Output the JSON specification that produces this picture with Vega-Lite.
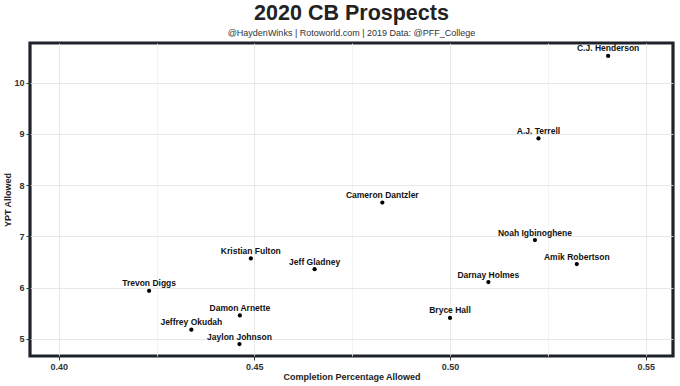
{
  "$schema": "https://vega.github.io/schema/vega-lite/v6.json",
  "width": 643,
  "height": 313,
  "autosize": {"type": "none"},
  "padding": {"left": 30, "top": 43, "right": 7, "bottom": 30},
  "background": "white",
  "title": {
    "text": "2020 CB Prospects",
    "subtitle": "@HaydenWinks | Rotoworld.com | 2019 Data: @PFF_College",
    "anchor": "middle",
    "font": "Liberation Sans",
    "fontSize": 21.5,
    "fontWeight": "bold",
    "color": "#222222",
    "subtitleFont": "Liberation Sans",
    "subtitleFontSize": 9,
    "subtitleColor": "#333333",
    "subtitlePadding": 5,
    "offset": 5
  },
  "config": {
    "view": {"stroke": "#1e222b", "strokeWidth": 3.2},
    "axis": {
      "domain": false,
      "labelFont": "Liberation Sans",
      "labelFontSize": 9,
      "labelFontWeight": "bold",
      "labelColor": "#333333",
      "titleFont": "Liberation Sans",
      "titleFontSize": 9,
      "titleFontWeight": "bold",
      "titleColor": "#222222",
      "tickColor": "#333333",
      "tickSize": 4,
      "labelPadding": 2,
      "gridWidth": 0.8
    }
  },
  "data": {
    "values": [
      {"player": "C.J. Henderson", "comp": 0.5404, "ypt": 10.52},
      {"player": "A.J. Terrell", "comp": 0.5226, "ypt": 8.91},
      {"player": "Cameron Dantzler", "comp": 0.4827, "ypt": 7.66},
      {"player": "Noah Igbinoghene", "comp": 0.5217, "ypt": 6.93},
      {"player": "Kristian Fulton", "comp": 0.4491, "ypt": 6.57},
      {"player": "Amik Robertson", "comp": 0.5324, "ypt": 6.46},
      {"player": "Jeff Gladney", "comp": 0.4654, "ypt": 6.36},
      {"player": "Darnay Holmes", "comp": 0.5098, "ypt": 6.11},
      {"player": "Trevon Diggs", "comp": 0.4231, "ypt": 5.94},
      {"player": "Damon Arnette", "comp": 0.4463, "ypt": 5.46},
      {"player": "Bryce Hall", "comp": 0.5, "ypt": 5.41},
      {"player": "Jeffrey Okudah", "comp": 0.4339, "ypt": 5.18},
      {"player": "Jaylon Johnson", "comp": 0.4462, "ypt": 4.9}
    ]
  },
  "encoding": {
    "x": {
      "field": "comp",
      "type": "quantitative",
      "scale": {"domain": [0.39267, 0.55698], "nice": false, "zero": false},
      "axis": {
        "title": "Completion Percentage Allowed",
        "titlePadding": 1,
        "values": [0.4, 0.425, 0.45, 0.475, 0.5, 0.525, 0.55],
        "format": ".2f",
        "labelExpr": "round(datum.value*40) % 2 == 1 ? '' : datum.label",
        "gridColor": {"condition": {"test": "round(datum.value*40) % 2 == 1", "value": "#f0f0f0"}, "value": "#e3e3e3"},
        "tickOpacity": {"condition": {"test": "round(datum.value*40) % 2 == 1", "value": 0}, "value": 1}
      }
    },
    "y": {
      "field": "ypt",
      "type": "quantitative",
      "scale": {"domain": [4.668, 10.772], "nice": false, "zero": false},
      "axis": {
        "title": "YPT Allowed",
        "titlePadding": 1,
        "values": [5, 5.5, 6, 6.5, 7, 7.5, 8, 8.5, 9, 9.5, 10, 10.5],
        "format": "d",
        "labelExpr": "round(datum.value*2) % 2 == 1 ? '' : datum.label",
        "gridColor": {"condition": {"test": "round(datum.value*2) % 2 == 1", "value": "#f0f0f0"}, "value": "#e3e3e3"},
        "tickOpacity": {"condition": {"test": "round(datum.value*2) % 2 == 1", "value": 0}, "value": 1}
      }
    }
  },
  "layer": [
    {
      "mark": {"type": "point", "filled": true, "size": 18, "color": "#000000", "opacity": 1}
    },
    {
      "mark": {
        "type": "text",
        "font": "Liberation Sans",
        "fontSize": 8.5,
        "fontWeight": "bold",
        "color": "#111111",
        "baseline": "alphabetic",
        "align": "center",
        "dy": -4.5
      },
      "encoding": {"text": {"field": "player", "type": "nominal"}}
    }
  ]
}
